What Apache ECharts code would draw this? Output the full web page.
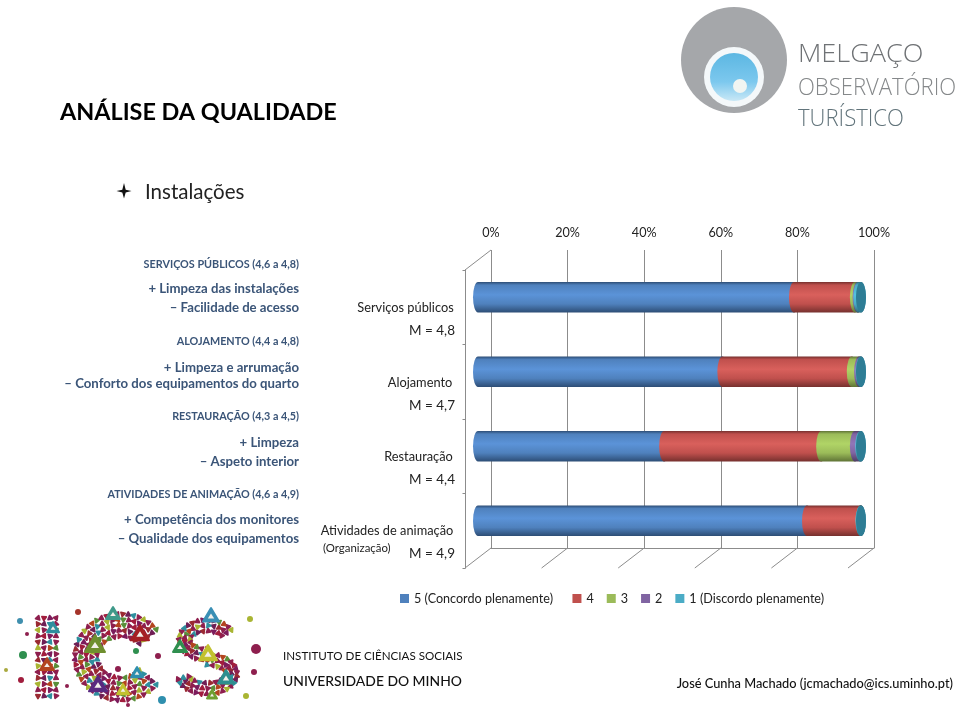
<!DOCTYPE html>
<html><head><meta charset="utf-8">
<style>html,body{margin:0;padding:0;background:#fff}#c{width:960px;height:713px}</style>
<script src="https://cdn.jsdelivr.net/npm/echarts@6/dist/echarts.min.js"></script></head>
<body><div id="c"></div>
<script>
const categories = ['Serviços públicos','Alojamento','Restauração','Atividades de animação'];
const means = ['M = 4,8','M = 4,7','M = 4,4','M = 4,9'];
const seriesNames = ['5 (Concordo plenamente)','4','3','2','1 (Discordo plenamente)'];
const s5 = [82.5,63.8,48.6,85.9];
const s4 = [15.9,33.8,41,14];
const s3 = [0.7,1.9,8.8,0];
const s2 = [0.2,0.4,1.4,0];
const s1 = [0.7,0.1,0.2,0.1];
const xTicks = [0,20,40,60,80,100];
const sectionLines = [
 ['SERVIÇOS PÚBLICOS (4,6 a 4,8)',265,10.8,1],['+ Limpeza das instalações',289,13.2,0],['– Facilidade de acesso',308,13.2,0],
 ['ALOJAMENTO (4,4 a 4,8)',342,10.8,1],['+ Limpeza e arrumação',368,13.2,0],['– Conforto dos equipamentos do quarto',384,13.2,0],
 ['RESTAURAÇÃO (4,3 a 4,5)',417,10.8,1],['+ Limpeza',443,13.2,0],['– Aspeto interior',462,13.2,0],
 ['ATIVIDADES DE ANIMAÇÃO (4,6 a 4,9)',495,10.8,1],['+ Competência dos monitores',520,13.2,0],['– Qualidade dos equipamentos',539,13.2,0]];
const colors = ['#4f81bd','#c0504d','#9bbb59','#8064a2','#4bacc6'];
const darks = ['#2d4d75','#76302e','#5f7336','#4e3d63','#2e6b7c'];
const mids = ['#5b93d8','#d9605c','#b0d466','#9176b8','#55c3e0'];
const F = 'Lato, "Open Sans", sans-serif';
const all = [s5,s4,s3,s2,s1];

function shade(i){return new echarts.graphic.LinearGradient(0,0,0,1,[
 {offset:0,color:darks[i]},{offset:.1,color:colors[i]},{offset:.42,color:mids[i]},{offset:.72,color:colors[i]},{offset:1,color:darks[i]}]);}

function seg(i){
 return {type:'custom',name:seriesNames[i],xAxisIndex:1,yAxisIndex:1,clip:false,z:5+i,
  data:categories.map((c,k)=>{let st=0;for(let j=0;j<i;j++)st+=all[j][k];return [st,st+all[i][k],k];}),
  encode:{x:[0,1],y:2},
  renderItem(p,api){
   const a=api.coord([api.value(0),api.value(2)]),b=api.coord([api.value(1),api.value(2)]);
   const h=30.5,rx=5,y=a[1]-h/2;
   const shapes=[{type:'path',shape:{pathData:
    `M${a[0]} ${y}L${b[0]} ${y}A${rx} ${h/2} 0 0 1 ${b[0]} ${y+h}L${a[0]} ${y+h}A${rx} ${h/2} 0 0 1 ${a[0]} ${y}Z`,
    x:Math.min(a[0],b[0])-rx,y:y,width:Math.abs(b[0]-a[0])+2*rx,height:h,layout:'none'},
    style:{fill:shade(i)}}];
   if(i===4){shapes.push({type:'ellipse',shape:{cx:b[0],cy:a[1],rx:rx,ry:h/2},style:{fill:'#2e7d95'}});}
   return {type:'group',children:shapes};
  }};
}

const floor={type:'custom',xAxisIndex:0,yAxisIndex:0,clip:false,silent:true,z:1,data:xTicks.map(t=>[t]),encode:{x:0},
 renderItem(p,api){const c=api.coord([api.value(0),0]);
  return {type:'line',shape:{x1:c[0],y1:c[1],x2:c[0]-26,y2:c[1]+20},style:{stroke:'#8c8c8c',lineWidth:1}};}};
const corner={type:'custom',xAxisIndex:0,yAxisIndex:0,clip:false,silent:true,z:1,data:[[0]],encode:{x:0},
 renderItem(p,api){const c=api.coord([0,1]);
  return {type:'line',shape:{x1:c[0],y1:c[1],x2:c[0]-26,y2:c[1]+20},style:{stroke:'#8c8c8c',lineWidth:1}};}};

const g=[];
const T=(t,x,y,size,opt={})=>g.push({type:'text',x,y,z:20,scaleX:opt.sx||1,style:Object.assign({text:t,font:`${opt.w||400} ${size}px ${opt.f||F}`,fill:opt.c||'#1a1a1a',textAlign:opt.a||'left',textVerticalAlign:'middle'},opt.s||{})});

T('ANÁLISE DA QUALIDADE',60,112,23.4,{w:700,c:'#000'});
g.push({type:'polygon',z:20,shape:{points:[[124,183],[125.7,189.7],[131.5,191],[125.7,192.5],[124,198.5],[122.3,192.5],[116.5,191],[122.3,189.7]]},style:{fill:'#111'}});
T('Instalações',145,192,20.5,{c:'#222'});
sectionLines.forEach(l=>T(l[0],299,l[1],l[2],{a:'right',c:'#3b5578',w:700}));
const catY=[308,383,457,531], meanY=[331,406,480,554], catX=[405.5,420,418.5,387];
categories.forEach((c,i)=>{T(c,catX[i],catY[i],12.8,{a:'center',c:'#222'});T(means[i],455,meanY[i],13.5,{a:'right',c:'#222'});});
T('(Organização)',323,548,11.4,{c:'#222'});
T('INSTITUTO DE CIÊNCIAS SOCIAIS',283,656,11.6,{c:'#111'});
T('UNIVERSIDADE DO MINHO',283,682,13.9,{c:'#111',w:500});
T('José Cunha Machado (jcmachado@ics.uminho.pt)',953,683.5,12.8,{a:'right',c:'#111',w:500});

// Melgaço logo
g.push({type:'circle',z:10,shape:{cx:734,cy:60,r:53},style:{fill:'#a5a7aa'}});
g.push({type:'circle',z:11,shape:{cx:734,cy:77,r:30},style:{fill:'#f4f8fa'}});
g.push({type:'circle',z:12,shape:{cx:734,cy:77,r:24},style:{fill:new echarts.graphic.LinearGradient(0,0,0,1,[{offset:0,color:'#5cb7e2'},{offset:.6,color:'#7cc8ee'},{offset:1,color:'#c9e8f6'}])}});
g.push({type:'circle',z:13,shape:{cx:740,cy:86,r:7},style:{fill:'#f1f5f2'}});
T('MELGAÇO',798,55,26,{f:'"Open Sans"',w:300,c:'#6f7275',sx:1.04});
T('OBSERVATÓRIO',798,88,24,{f:'"Open Sans"',w:300,c:'#85888a',sx:.92});
T('TURÍSTICO',798,119,24,{f:'"Open Sans"',w:300,c:'#62747b',sx:.92});

// ICS logo tiles
const tilePal=['#8e1f4e','#a11d3d','#7c1c5c','#8e1f4e','#9a2a32','#6f1f55','#2f8f9e','#8e1f4e','#a9b533','#8e1f4e','#b3451f','#5a8f3a'];
let tn=0;
function tile(x,y,r){const col=tilePal[tn++%tilePal.length];
 const a=(tn*47)%360*Math.PI/180;
 const pts=[0,1,2].map(k=>[x+r*Math.cos(a+k*2.094),y+r*Math.sin(a+k*2.094)]);
 g.push({type:'polygon',z:9,shape:{points:pts},style:{fill:col,stroke:col,lineWidth:r*.7,lineJoin:'round'}});}
for(let y=618;y<=696;y+=6)for(let x=38;x<=58;x+=6)tile(x,y,2.5);
function arc(cx,cy,rx,ry,a0,a1,w){for(let o=-w;o<=w;o+=5.5){const n=Math.round(Math.abs(a1-a0)/(5.5/Math.max(rx+o,ry+o)*57.3));
 for(let i=0;i<=n;i++){const a=(a0+(a1-a0)*i/n)*Math.PI/180;tile(cx+(rx+o)*Math.cos(a),cy+(ry+o)*Math.sin(a),2.5);}}}
arc(121,657,35,32,40,320,11);
arc(207,640,25,17,-30,-270,8);
arc(207,674,27,17,-90,165,8);
const big=[[95,645,10,'#6f8f2f'],[113,614,7,'#3f9a8a'],[140,634,9,'#a51f24'],[98,685,9,'#5a2a80'],[123,690,6,'#c2c12f'],[137,673,6,'#2f8fae'],[211,616,8,'#3a8fb5'],[180,647,7,'#2f8f4f'],[208,654,9,'#c2c12f'],[226,678,8,'#2f8f8f'],[212,695,5,'#6f9f2f'],[47,665,7,'#b3451f'],[53,628,6,'#2f8f9e']];
big.forEach(b=>{g.push({type:'polygon',z:10,shape:{points:[[b[0]-b[2],b[1]+b[2]*.7],[b[0]+b[2],b[1]+b[2]*.7],[b[0],b[1]-b[2]]]},style:{fill:b[3],stroke:b[3],lineWidth:2,lineJoin:'round'}});
 g.push({type:'polygon',z:11,shape:{points:[[b[0]-b[2]*.4,b[1]+b[2]*.3],[b[0]+b[2]*.4,b[1]+b[2]*.3],[b[0],b[1]-b[2]*.3]]},style:{fill:'#f3f0ea'}});});
[[20,621,'#3f8fae',3],[27,634,'#8e1f4e',2],[23,655,'#2f8f4f',4],[6,670,'#a9a93f',2],[21,680,'#a11d3d',3],[78,612,'#a5342a',3],[136,651,'#2f8f4f',3],[118,669,'#8e1f4e',3],[158,656,'#8e1f4e',3],[250,619,'#a9b533',3],[256,649,'#8e1f4e',5],[254,672,'#8e1f4e',3],[246,696,'#a9b533',3],[162,700,'#2f8fae',4],[67,686,'#8e1f4e',2],[128,705,'#8e1f4e',2]].forEach(d=>g.push({type:'circle',z:9,shape:{cx:d[0],cy:d[1],r:d[3]},style:{fill:d[2]}}));

const chart=echarts.init(document.getElementById('c'),null,{renderer:'canvas'});
chart.setOption({
 animation:false,backgroundColor:'#fff',
 textStyle:{fontFamily:F},
 grid:[
  {left:491,top:250,width:383,height:298},
  {left:478,top:260,width:383,height:298},
  {left:465.5,top:270,width:383,height:298}],
 xAxis:[
  {gridIndex:0,type:'value',min:0,max:100,interval:20,position:'top',
   axisLine:{show:true,lineStyle:{color:'#8c8c8c'}},axisTick:{show:false},
   splitLine:{show:true,lineStyle:{color:'#8c8c8c',width:1}},
   axisLabel:{formatter:'{value}%',color:'#222',fontSize:12.6,margin:11,fontFamily:F}},
  {gridIndex:1,type:'value',min:0,max:100,show:false},
  {gridIndex:2,type:'value',min:0,max:100,show:false}],
 yAxis:[
  {gridIndex:0,type:'value',min:0,max:1,show:false},
  {gridIndex:1,type:'category',inverse:true,data:categories,show:false},
  {gridIndex:2,type:'category',inverse:true,data:categories,
   axisLine:{show:true,lineStyle:{color:'#8c8c8c'}},axisTick:{show:true,length:3,lineStyle:{color:'#8c8c8c'}},axisLabel:{show:false},splitLine:{show:false}}],
 legend:{top:592,left:400,padding:0,itemWidth:9,itemHeight:9,itemGap:13,icon:'rect',
  formatter:n=>n===seriesNames[0]?n+'\u00a0\u00a0':n,
  textStyle:{fontSize:12.6,color:'#222',fontFamily:F},
  data:seriesNames.map((n,i)=>({name:n,itemStyle:{color:colors[i]}}))},
 color:colors,
 series:[floor,corner,...[0,1,2,3,4].map(seg)],
 graphic:{elements:g}
});
</script></body></html>
